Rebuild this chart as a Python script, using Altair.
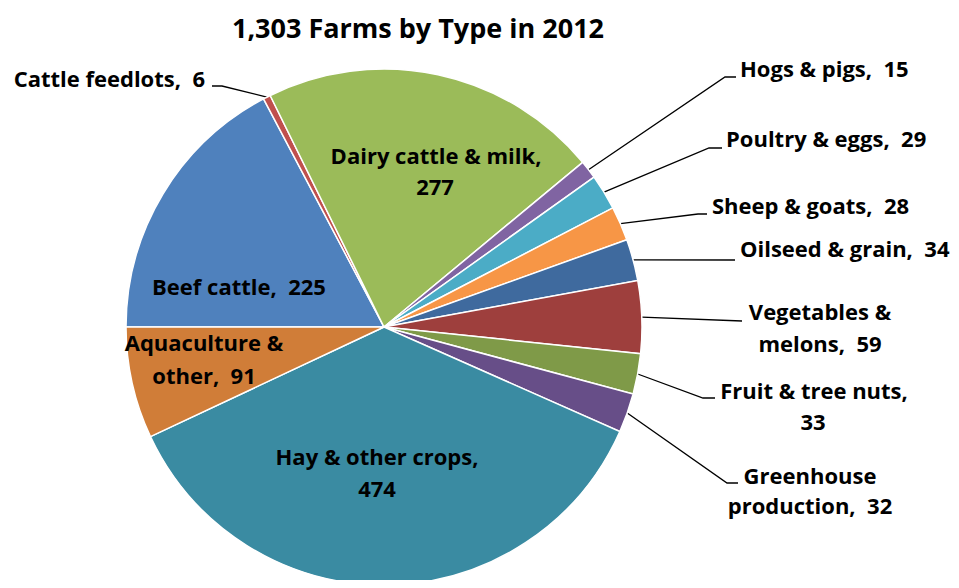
import math
import altair as alt
import pandas as pd

# ---------------- data ----------------
categories = ["Beef cattle", "Cattle feedlots", "Dairy cattle & milk", "Hogs & pigs",
              "Poultry & eggs", "Sheep & goats", "Oilseed & grain", "Vegetables & melons",
              "Fruit & tree nuts", "Greenhouse production", "Hay & other crops",
              "Aquaculture & other"]
values = [225, 6, 277, 15, 29, 28, 34, 59, 33, 32, 474, 91]
colors = ["#4F81BD", "#C0504D", "#9BBB59", "#8064A2", "#4BACC6", "#F79646",
          "#3F6A9E", "#9E3F3D", "#7F9A48", "#674E88", "#3A8BA2", "#D07D38"]
title_text = "1,303 Farms by Type in 2012"

NB = "\u00a0\u00a0"
label_lines = [
    ["Beef cattle," + NB + "225"],
    ["Cattle feedlots," + NB + "6"],
    ["Dairy cattle & milk,", "277"],
    ["Hogs & pigs," + NB + "15"],
    ["Poultry & eggs," + NB + "29"],
    ["Sheep & goats," + NB + "28"],
    ["Oilseed & grain," + NB + "34"],
    ["Vegetables &", "melons," + NB + "59"],
    ["Fruit & tree nuts,", "33"],
    ["Greenhouse", "production," + NB + "32"],
    ["Hay & other crops,", "474"],
    ["Aquaculture &", "other," + NB + "91"],
]

# ---------------- layout (pixel offsets from pie centre, y down) ----------------
W, H = 943, 572          # plot area
CX, CY = 376, 319        # pie centre inside plot area
R = 258                  # pie radius
label_align = ["center", "right", "center", "left", "left", "left", "left",
               "center", "center", "center", "center", "center"]
label_pos = [
    [(-145, -39)],
    [(-179, -247)],
    [(52, -170), (51, -139)],
    [(356, -257)],
    [(342, -187)],
    [(328, -120)],
    [(356, -77)],
    [(436, -14), (436, 18)],
    [(430, 65), (429, 96)],
    [(426, 150), (426, 180)],
    [(-7, 131), (-7, 163)],
    [(-180, 17), (-180, 50)],
]
leader_pts = [
    None,
    [(-162, -241), (-172, -241)],
    None,
    [(341, -250), (352, -250)],
    [(325, -179), (338, -179)],
    [(314, -113), (323, -113)],
    [(351, -67)],
    [(358, -6)],
    [(319, 71), (331, 71)],
    [(343, 156), (354, 156)],
    None,
    None,
]
title_pos = (34, -297)

FONT = "Open Sans"
FS = 22
TITLE_FS = 27

# ---------------- build tables ----------------
total = sum(values)
start_angle = 1.5 * math.pi
pie_df = pd.DataFrame({"category": categories, "value": values,
                       "order": list(range(len(categories)))})

text_rows = []
for i, lines in enumerate(label_lines):
    for (dx, dy), t in zip(label_pos[i], lines):
        text_rows.append({"text": t, "x": dx, "y": -dy, "align": label_align[i]})
text_df = pd.DataFrame(text_rows)

line_rows = []
cum = 0.0
for i, v in enumerate(values):
    mid = cum + v / 2.0
    cum += v
    if leader_pts[i] is None:
        continue
    theta = start_angle + 2 * math.pi * mid / total
    pts = [(R * math.sin(theta), R * math.cos(theta))]
    pts += [(dx, -dy) for dx, dy in leader_pts[i]]
    for k, (px, py) in enumerate(pts):
        line_rows.append({"id": categories[i], "seq": k, "x": px, "y": py})
line_df = pd.DataFrame(line_rows)

title_df = pd.DataFrame({"text": [title_text], "x": [title_pos[0]], "y": [-title_pos[1]]})

xs = alt.Scale(domain=[-CX, W - CX], nice=False, zero=False)
ys = alt.Scale(domain=[-(H - CY), CY], nice=False, zero=False)

pie = alt.Chart(pie_df).mark_arc(outerRadius=R, stroke="white", strokeWidth=1.5).encode(
    theta=alt.Theta("value:Q", stack=True,
                    scale=alt.Scale(range=[start_angle, start_angle + 2 * math.pi])),
    color=alt.Color("category:N", scale=alt.Scale(domain=categories, range=colors), legend=None),
    order=alt.Order("order:Q"),
    x=alt.value(CX),
    y=alt.value(CY),
)

leaders = alt.Chart(line_df).mark_line(color="black", strokeWidth=1.3).encode(
    x=alt.X("x:Q", scale=xs, axis=None),
    y=alt.Y("y:Q", scale=ys, axis=None),
    detail="id:N",
    order="seq:Q",
)

def text_layer(align):
    return alt.Chart(text_df[text_df["align"] == align]).mark_text(
        font=FONT, fontWeight="bold", fontSize=FS, align=align, baseline="middle", color="black"
    ).encode(
        x=alt.X("x:Q", scale=xs, axis=None),
        y=alt.Y("y:Q", scale=ys, axis=None),
        text="text:N",
    )

title = alt.Chart(title_df).mark_text(
    font=FONT, fontWeight="bold", fontSize=TITLE_FS, align="center", baseline="middle", color="black"
).encode(
    x=alt.X("x:Q", scale=xs, axis=None),
    y=alt.Y("y:Q", scale=ys, axis=None),
    text="text:N",
)

chart = alt.layer(
    leaders, pie, text_layer("center"), text_layer("left"), text_layer("right"), title
).properties(
    width=W, height=H, padding=0, autosize=alt.AutoSizeParams(type="none")
).configure_view(stroke=None)

chart.save("out.html", embed_options={"renderer": "svg", "actions": False})
